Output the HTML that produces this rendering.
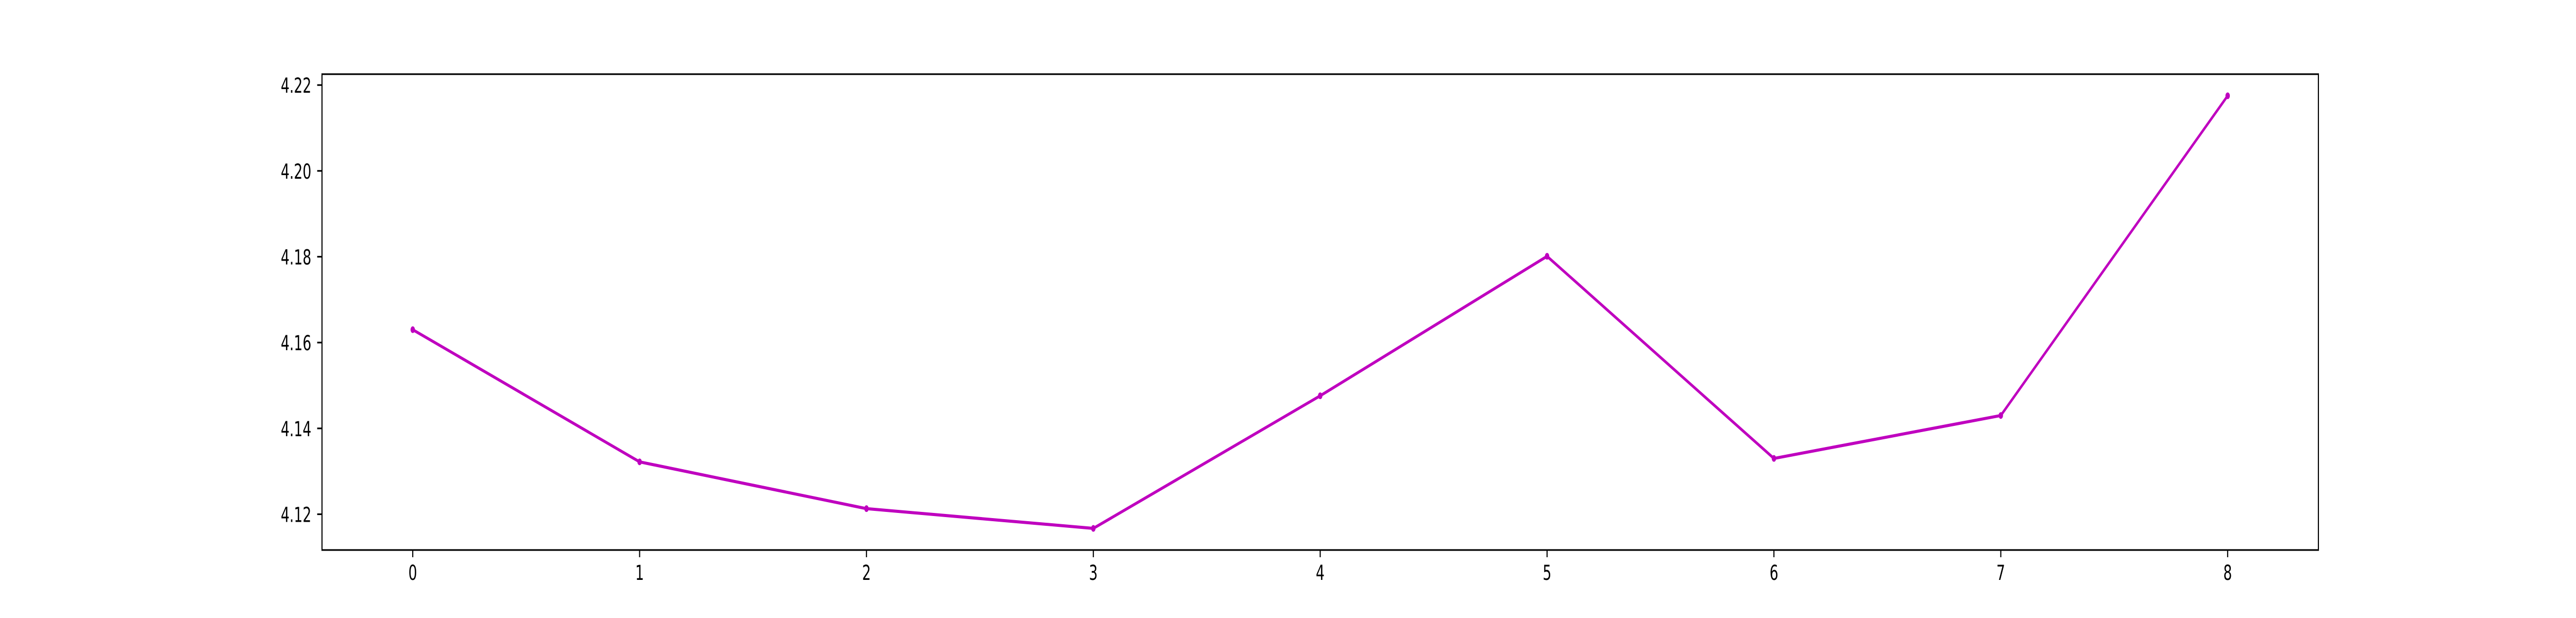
<!DOCTYPE html>
<html><head><meta charset="utf-8"><style>html,body{margin:0;padding:0;background:#fff;overflow:hidden;width:100vw;height:100vh}svg{display:block;width:100vw;height:100vh}</style></head>
<body>
<svg id="chart" viewBox="0 0 7500 1200" preserveAspectRatio="none" xmlns="http://www.w3.org/2000/svg" font-family="'DejaVu Sans','Liberation Sans',sans-serif" font-size="40px">
<rect x="0" y="0" width="7500" height="1200" fill="#fff"/>
<g id="plot"></g>
</svg>
<script>
const categories = [0, 1, 2, 3, 4, 5, 6, 7, 8];
const seriesValues = [4.1630, 4.1322, 4.1213, 4.1167, 4.1476, 4.1801, 4.1330, 4.1430, 4.2175];
const yTickValues = [4.12, 4.14, 4.16, 4.18, 4.20, 4.22];
const yTickLabels = ["4.12", "4.14", "4.16", "4.18", "4.20", "4.22"];
const xTickLabels = ["0", "1", "2", "3", "4", "5", "6", "7", "8"];

const L = 937.5, R = 6750, T = 144, B = 1068;
const NS = "http://www.w3.org/2000/svg";
const g = document.getElementById('plot');
const xmin = -0.4, xmax = 8.4;
const dmin = Math.min(...seriesValues), dmax = Math.max(...seriesValues);
const pad = (dmax - dmin) * 0.05;
const ymin = dmin - pad, ymax = dmax + pad;
function xs(v){ return L + (v - xmin) / (xmax - xmin) * (R - L); }
function ys(v){ return B - (v - ymin) / (ymax - ymin) * (B - T); }
function mk(tag, attrs){ const e = document.createElementNS(NS, tag); for (const k in attrs) e.setAttribute(k, attrs[k]); g.appendChild(e); return e; }

const pts = categories.map((c, i) => xs(c).toFixed(2) + ',' + ys(seriesValues[i]).toFixed(2)).join(' ');
const line = mk('polyline', {points: pts, fill: 'none', stroke: '#bf00bf', 'stroke-width': 6, 'stroke-linejoin': 'round', 'stroke-linecap': 'square'});


categories.forEach((c, i) => {
  const p = mk('circle', {cx: xs(c), cy: ys(seriesValues[i]), r: 6.5, fill: '#bf00bf'});
  
  
});

categories.forEach((c, i) => {
  const t = mk('line', {x1: xs(c), x2: xs(c), y1: B, y2: B + 14, stroke: '#000', 'stroke-width': 3.2});
  
  
  const tx = mk('text', {x: xs(c), y: B + 58, 'text-anchor': 'middle', fill: '#000'});
  tx.textContent = xTickLabels[i];
  
  
});
yTickValues.forEach((v, i) => {
  const t = mk('line', {x1: L - 14, x2: L, y1: ys(v), y2: ys(v), stroke: '#000', 'stroke-width': 3.2});
  
  
  const tx = mk('text', {x: L - 31, y: ys(v) + 15, 'text-anchor': 'end', fill: '#000'});
  tx.textContent = yTickLabels[i];
  
  
});
const fr = mk('rect', {x: L, y: T, width: R - L, height: B - T, fill: 'none', stroke: '#000', 'stroke-width': 3.2});


</script>
</body></html>
